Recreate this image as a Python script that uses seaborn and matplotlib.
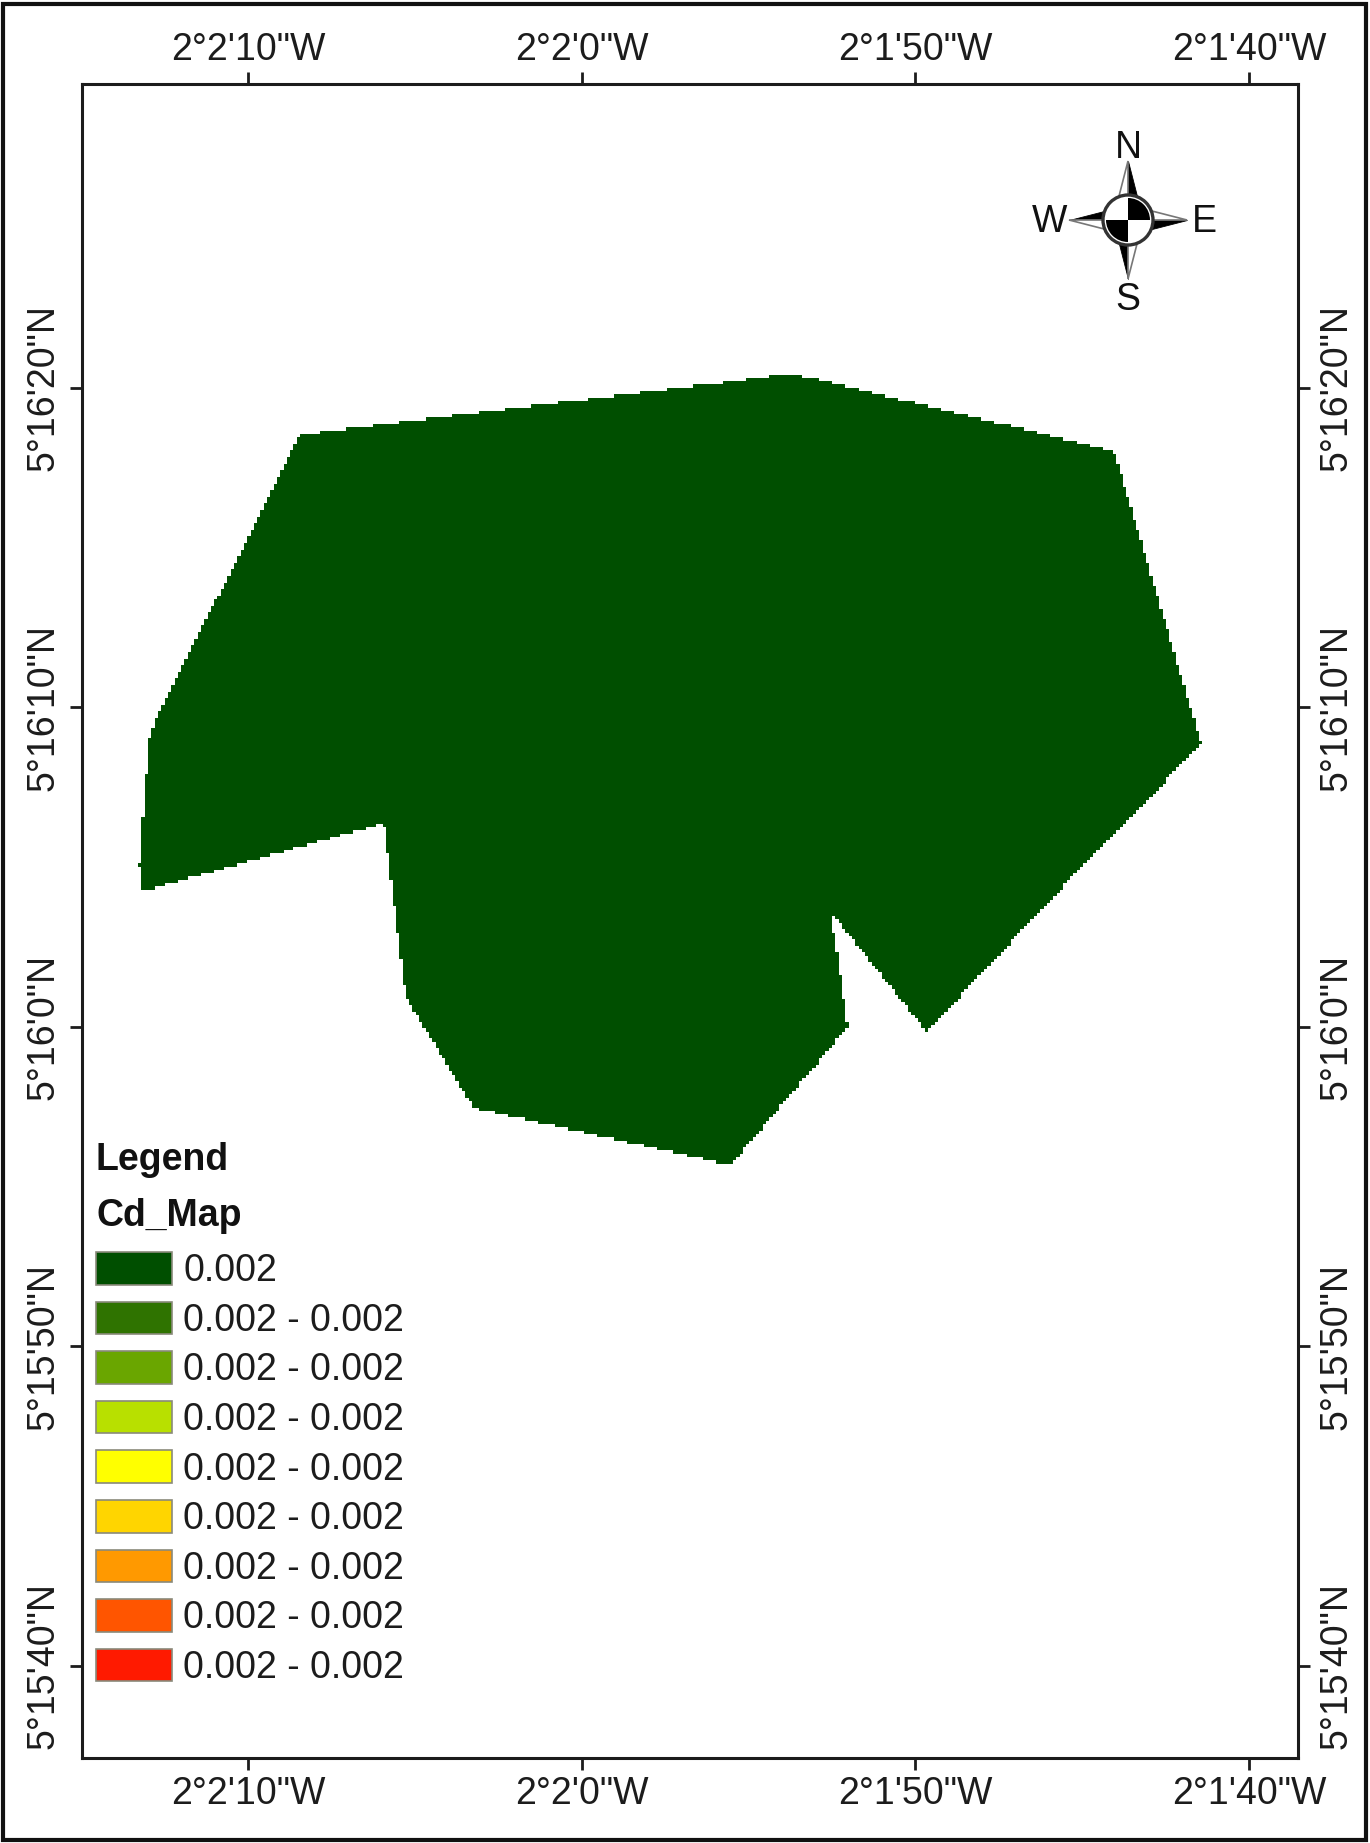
import matplotlib
matplotlib.use("Agg")
import matplotlib.pyplot as plt
from matplotlib.patches import Patch, Rectangle, Polygon, Circle, Wedge
from matplotlib.path import Path
from matplotlib.transforms import ScaledTranslation
import numpy as np
import pandas as pd
import seaborn as sns

# Boundary of the mapped area, in arc-seconds: west of 2 deg 1', north of 5 deg 15'
boundary_lon = [68.47, 67.99, 56.40, 55.53, 54.75, 54.03, 53.52, 44.08, 43.93, 41.44,
                43.03, 44.11, 48.12, 49.65, 52.53, 52.02, 55.53, 63.23, 65.27, 65.92,
                73.21, 73.24, 73.12, 73.00, 72.91, 72.58, 68.47]
boundary_lat = [78.50, 78.59, 80.09, 80.19, 80.31, 80.41, 80.41, 78.03, 77.65, 68.89,
                67.10, 66.01, 61.56, 59.84, 63.60, 60.00, 55.68, 57.46, 60.94, 66.38,
                64.23, 65.10, 66.79, 68.48, 69.26, 69.98, 78.50]

lon_ticks = [70, 60, 50, 40]
lon_labels = ["2°2'10\"W", "2°2'0\"W", "2°1'50\"W", "2°1'40\"W"]
lat_ticks = [80, 70, 60, 50, 40]
lat_labels = ["5°16'20\"N", "5°16'10\"N", "5°16'0\"N", "5°15'50\"N", "5°15'40\"N"]

legend_labels = ["0.002"] + ["0.002 - 0.002"] * 8
legend_colors = ["#004f00", "#2f7300", "#6aa600", "#b8e000", "#ffff00",
                 "#ffd500", "#ff9900", "#ff5500", "#ff1a00"]
map_color = "#004f00"
ink = "#1c1c1c"
lon_range = (74.97, 38.53)
lat_range = (37.12, 89.51)

sns.set_theme(style="white")
plt.rcParams["font.family"] = ["Liberation Sans", "DejaVu Sans"]

W, H = 1370, 1843
frame = [82 / W, 1 - 1758 / H, (1298 - 82) / W, (1758 - 84) / H]
fig = plt.figure(figsize=(W / 100, H / 100), dpi=100, facecolor="white")

# Raster of the study area: cells of about 3.3 pixels, as in the original grid map
ncols, nrows = 368, 507
lon_step = (lon_range[1] - lon_range[0]) / ncols
lat_step = (lat_range[0] - lat_range[1]) / nrows
lon_cells = lon_range[0] + lon_step * (np.arange(ncols) + 0.5)
lat_cells = lat_range[1] + lat_step * (np.arange(nrows) + 0.5)
gx, gy = np.meshgrid(lon_cells, lat_cells)
inside = Path(np.column_stack([boundary_lon, boundary_lat])).contains_points(
    np.column_stack([gx.ravel(), gy.ravel()])).reshape(gx.shape)
grid = pd.DataFrame(np.where(inside, 0.002, np.nan), index=lat_cells, columns=lon_cells)

rax = fig.add_axes(frame, zorder=1)
sns.heatmap(grid, ax=rax, cmap=[map_color], cbar=False, xticklabels=False, yticklabels=False)
rax.set_xlabel("")
rax.set_ylabel("")
rax.axis("off")

ax = fig.add_axes(frame, zorder=2)
ax.patch.set_visible(False)
ax.set_xlim(*lon_range)
ax.set_ylim(*lat_range)
ax.set_xticks(lon_ticks, lon_labels)
ax.set_yticks(lat_ticks, lat_labels)
ax.tick_params(axis="both", which="major", length=8.5, width=2, color=ink, labelcolor=ink,
               labelsize=27, pad=6, bottom=True, top=True, left=True, right=True,
               labelbottom=True, labeltop=True, labelleft=True, labelright=True)
ax.tick_params(axis="y", labelrotation=90)
for t in ax.get_yticklabels():
    t.set_va("center")
for side in ax.spines.values():
    side.set_linewidth(2.2)
    side.set_color(ink)
for tick in ax.xaxis.get_major_ticks():
    tick.label2.set_transform(tick.label2.get_transform()
                              + ScaledTranslation(0, -4.5 / 100, fig.dpi_scale_trans))
    tick.label1.set_transform(tick.label1.get_transform()
                              + ScaledTranslation(0, 2 / 100, fig.dpi_scale_trans))

# Legend
handles = [Patch(facecolor=c, edgecolor="#8a8a7a", linewidth=1.2) for c in legend_colors]
leg = ax.legend(handles, legend_labels, title="Legend\nCd_Map", loc="upper left",
                bbox_to_anchor=(14 / 1216, (1758 - 1142) / 1674), borderaxespad=0, borderpad=0,
                frameon=False, fontsize=27, handlelength=2.03, handleheight=0.96,
                handletextpad=0.3, labelspacing=0.33, alignment="left",
                labelcolor=ink, title_fontproperties={"size": 27, "weight": "bold"})
leg.get_title().set_color("#111111")
leg.get_title().set_linespacing(1.72)
leg._legend_box.sep = 13

# Compass rose, in pixels around its centre
cax = fig.add_axes([(1128 - 100) / W, 1 - (220 + 100) / H, 200 / W, 200 / H], zorder=3)
cax.set_xlim(-100, 100)
cax.set_ylim(-100, 100)
cax.axis("off")
spike_tip = 59
spike_base = 10
spike_root = 20
for sx, sy in [(0, 1), (1, 0), (0, -1), (-1, 0)]:
    tip = (sx * spike_tip, sy * spike_tip)
    root = (sx * spike_root, sy * spike_root)
    a = (root[0] - sy * spike_base, root[1] + sx * spike_base)
    b = (root[0] + sy * spike_base, root[1] - sx * spike_base)
    cax.add_patch(Polygon([tip, root, b], facecolor="black", edgecolor="black", lw=0.6, zorder=2))
    cax.add_patch(Polygon([tip, root, a], facecolor="white", edgecolor="#777777", lw=1.2, zorder=2))
cax.add_patch(Circle((0, 0), 25, facecolor="white", edgecolor="#333333", lw=2.4, zorder=3))
cax.add_patch(Wedge((0, 0), 22, 0, 90, facecolor="black", lw=0, zorder=4))
cax.add_patch(Wedge((0, 0), 22, 180, 270, facecolor="black", lw=0, zorder=4))
for letter, lx, ly in [("N", 0, 72), ("S", 0, -80), ("W", -78, -2), ("E", 76, -2)]:
    cax.text(lx, ly, letter, ha="center", va="center", fontsize=27, color="#111111")

# Outer frame of the figure
fig.add_artist(Rectangle((3 / W, 3 / H), (W - 7) / W, (H - 7) / H, transform=fig.transFigure,
                         facecolor="none", edgecolor="#111111", lw=3))

fig.savefig("out.png", dpi=100, facecolor="white")
